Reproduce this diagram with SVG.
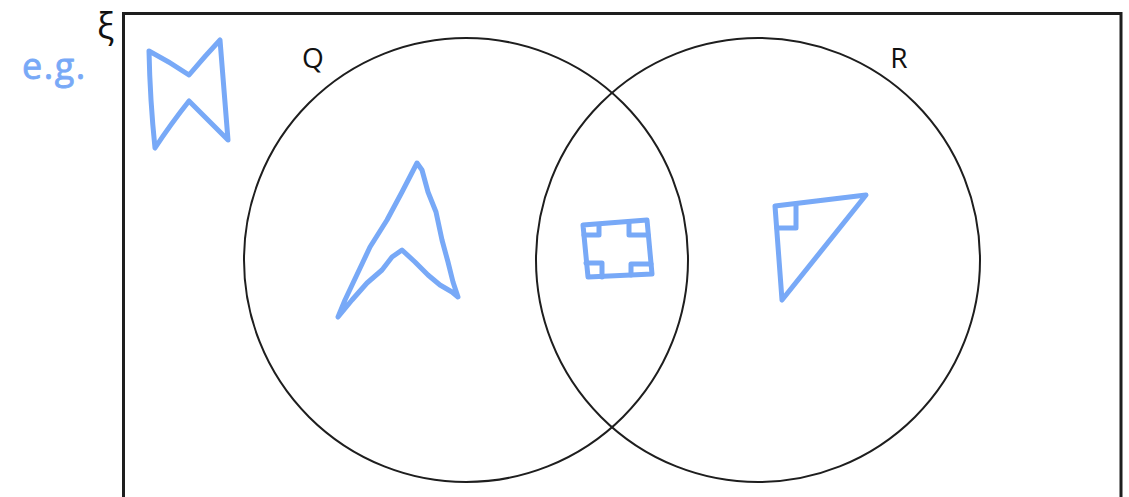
<svg xmlns="http://www.w3.org/2000/svg" width="1129" height="497" viewBox="0 0 1129 497">
<style>
.frame{fill:none;stroke:#1e1e1e;stroke-width:3}
.set{fill:none;stroke:#1e1e1e;stroke-width:2}
.lbl{font-family:"Open Sans","Noto Sans",sans-serif;fill:#111;font-size:28px}
.xi{font-family:"Open Sans","Noto Sans",sans-serif;fill:#111;font-size:36px}
.hand{fill:none;stroke:#78a9f7;stroke-width:5;stroke-linecap:round;stroke-linejoin:round}
.hw{font-family:"Open Sans","Noto Sans",sans-serif;fill:#78a9f7;stroke:#78a9f7;stroke-width:0.8;stroke-linejoin:round;font-size:36px}
</style>
<rect width="1129" height="497" fill="#ffffff"/>
<g id="universal">
<rect class="frame" x="123.5" y="13.5" width="997.5" height="500"/>
<text class="xi" x="114" y="39" text-anchor="end">ξ</text>
</g>
<g id="set-Q">
<circle class="set" cx="466" cy="260" r="222"/>
<text class="lbl" x="313" y="68" text-anchor="middle">Q</text>
</g>
<g id="set-R">
<circle class="set" cx="758" cy="260" r="222"/>
<text class="lbl" x="899" y="68" text-anchor="middle">R</text>
</g>
<g id="example-label">
<text class="hw" x="22" y="79" letter-spacing="1.5">e.g.</text>
</g>
<g id="shape-bowtie">
<path class="hand" d="M149,51 Q170,62 189,75 Q205,56 220,40 Q224,90 228,140 L189,101 Q170,125 155,148 Q150,100 149,51 Z"/>
</g>
<g id="shape-arrowhead">
<path class="hand" d="M417,163 L422,170 L428,192 L436,212 L442,240 L448,262 L453,282 L458,297 L452,292 L440,285 L428,275 L415,262 L402,250 L392,257 L382,270 L367,283 L352,300 L338,317 L345,300 L353,283 L362,264 L370,247 L387,220 L402,192 Z"/>
</g>
<g id="shape-rectangle">
<path class="hand" d="M583,225 L647,220 L652,274 L588,277 Z"/>
<path class="hand" d="M599,225 L599,235 L584,235 M629,222 L629,235 L648,235 M586,263 L602,263 L602,277 M651,264 L631,264 L631,275"/>
</g>
<g id="shape-triangle">
<path class="hand" d="M775,206 L866,195 L782,300 Z"/>
<path class="hand" d="M796,204 L796,228 L777,228"/>
</g>
</svg>
